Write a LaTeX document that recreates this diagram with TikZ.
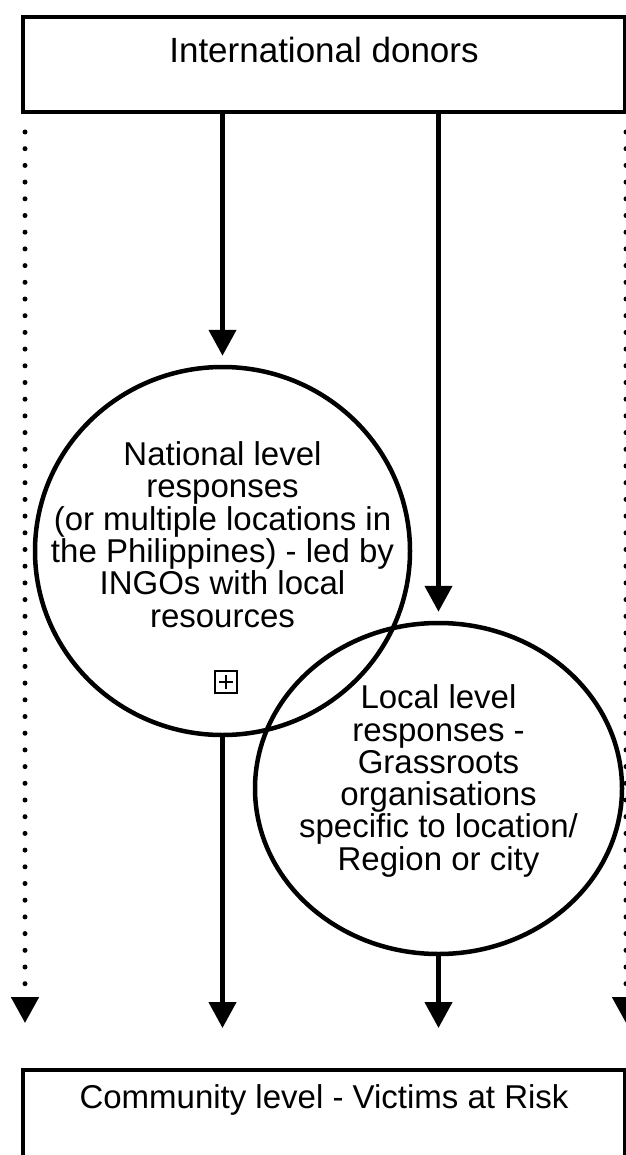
\documentclass[tikz,border=0pt]{standalone}
\usepackage{fontspec}
\setmainfont{Liberation Sans}
\usetikzlibrary{arrows.meta,shapes.geometric}

\tikzset{
    block/.style={draw, line width=4pt, minimum width=602pt, minimum height=95pt, anchor=north west},
    bubble/.style={draw, ellipse, line width=4.5pt, inner sep=0pt},
    bubbletext/.style={align=center, font=\fontsize{33}{32.3}\selectfont},
    flow/.style={line width=4.5pt, -{Triangle[width=27pt,length=26pt]}},
    hint/.style={flow, line width=5pt, line cap=round, dash pattern=on 0pt off 16.7pt},
    expander/.style={draw, line width=2pt, minimum size=22pt, inner sep=0pt,
        path picture={
            \draw[line width=2pt] ([yshift=-4pt]path picture bounding box.north) -- ([yshift=4pt]path picture bounding box.south);
            \draw[line width=2pt] ([xshift=4pt]path picture bounding box.west) -- ([xshift=-4pt]path picture bounding box.east);
        }}
}

\begin{document}
\begin{tikzpicture}[x=1pt, y=-1pt]
        \useasboundingbox (0,0) rectangle (625,1155);

        % Defining the boxes and the two responses
        \node[block, label={[bubbletext, font=\fontsize{35}{36}\selectfont, anchor=center, yshift=-35pt]north:International donors}] (donors) at (21,15) {};
        \node[block, label={[bubbletext, anchor=center, yshift=-32pt]north:Community level - Victims at Risk}] (community) at (21,1068) {};

        \node[bubble, minimum width=375pt, minimum height=368pt,
            label={[bubbletext, yshift=16.5pt]center:National level\\responses\\(or multiple locations in\\the Philippines) - led by\\INGOs with local\\resources}] (national) at (222.5,551) {};
        \node[bubble, minimum width=367pt, minimum height=331pt,
            label={[bubbletext, yshift=7.5pt]center:Local level\\responses -\\Grassroots\\organisations\\specific to location/\\Region or city}] (local) at (438.5,788.5) {};

        \node[expander] (toggle) at (226,682) {};

        % Funding flows
        \draw[flow, shorten >=9pt] (donors.south -| national.north) -- (national.north);
        \draw[flow, shorten >=9pt] (donors.south -| local.north) -- (local.north);
        \draw[flow, shorten >=40pt] (national.south) -- (national.south |- community.north);
        \draw[flow, shorten >=40pt] (local.south) -- (local.south |- community.north);

        % Direct (dotted) flows
        \draw[hint] ([shift={(4,18)}]donors.south west) -- ([shift={(4,-45)}]community.north west);
        \draw[hint] ([shift={(-1,18)}]donors.south east) -- ([shift={(-1,-45)}]community.north east);

\end{tikzpicture}
\end{document}
